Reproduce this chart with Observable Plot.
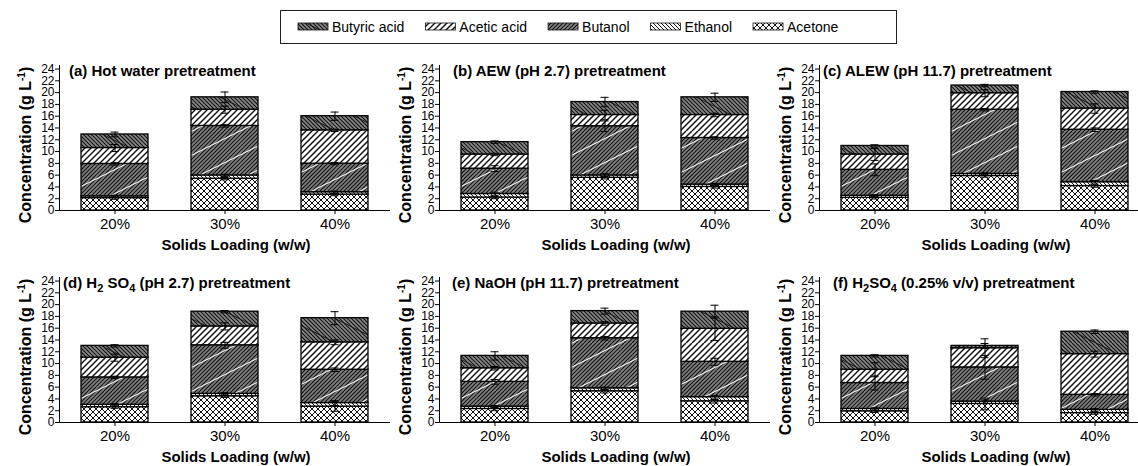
<!DOCTYPE html>
<html><head><meta charset="utf-8">
<script src="https://cdn.jsdelivr.net/npm/d3@7"></script>
<script src="https://cdn.jsdelivr.net/npm/@observablehq/plot@0.6"></script>
<style>
html,body{margin:0;padding:0;background:#fff;width:1138px;height:466px;overflow:hidden;font-family:"Liberation Sans",Arial,sans-serif;}
#root{position:relative;width:1138px;height:466px;}
.panel{position:absolute;width:390px;height:225px;}
.panel svg{overflow:visible;}
</style></head><body><div id="root"></div>
<script>
// ---------- data ----------
const legendOrder = ["Butyric acid","Acetic acid","Butanol","Ethanol","Acetone"];
const stackOrder = ["Acetone","Ethanol","Butanol","Acetic acid","Butyric acid"];
const loadings = ["20%","30%","40%"];
const titles = [
  "(a) Hot water pretreatment",
  "(b) AEW (pH 2.7) pretreatment",
  "(c) ALEW (pH 11.7) pretreatment",
  "(d) H_2 SO_4 (pH 2.7) pretreatment",
  "(e) NaOH (pH 11.7) pretreatment",
  "(f) H_2SO_4 (0.25% v/v) pretreatment"
];
const yTicks = [0,2,4,6,8,10,12,14,16,18,20,22,24];
const xAxisLabel = "Solids Loading (w/w)";
const yAxisLabel = ["Concentration (g L", "-1", ")"];
// values: panel a (20,30,40%), b, c, d, e, f  (g/L)
const acetone = [2.1,5.4,2.7, 2.2,5.55,4.0, 2.15,5.85,4.15, 2.6,4.45,2.7, 2.3,5.3,3.6, 1.9,3.15,1.6];
const ethanol = [0.3,0.55,0.4, 0.6,0.4,0.4, 0.35,0.35,0.65, 0.4,0.4,0.6, 0.4,0.5,0.7, 0.4,0.4,0.55];
const butanol = [5.5,8.4,4.85, 4.3,8.35,7.9, 4.4,10.9,8.9, 4.65,8.25,5.65, 4.2,8.5,6.0, 4.4,5.8,2.55];
const acetic  = [2.7,2.75,5.65, 2.4,1.9,3.9, 2.6,2.8,3.6, 3.35,3.2,4.65, 2.3,2.5,5.6, 2.25,3.25,6.9];
const butyric = [2.3,2.1,2.4, 2.1,2.2,3.0, 1.45,1.3,2.8, 2.0,2.5,4.1, 2.1,2.1,2.9, 2.35,0.4,3.8];
// standard deviations
const acetoneErr = [0.2,0.2,0.2, 0.2,0.2,0.2, 0.2,0.2,0.2, 0.2,0.2,0.8, 0.3,0.3,0.3, 0.2,1.0,0.2];
const ethanolErr = [0.2,0.2,0.2, 0.3,0.3,0.2, 0.2,0.2,0.3, 0.2,0.2,0.4, 0.2,0.2,0.3, 0.2,0.3,0.2];
const butanolErr = [0.2,0.2,0.2, 0.5,0.9,0.2, 1.0,0.2,0.3, 0.2,0.5,0.3, 0.4,0.3,0.6, 1.2,2.0,0.2];
const aceticErr  = [0.6,0.6,0.2, 0.2,0.8,0.3, 1.0,0.6,0.8, 0.6,0.6,0.4, 0.3,0.3,2.0, 1.2,1.6,0.5];
const butyricErr = [0.4,0.9,0.7, 0.2,0.8,0.7, 0.2,0.2,0.2, 0.2,0.2,1.1, 0.7,0.5,1.1, 0.2,0.4,0.3];

const series = {"Acetone":[acetone,acetoneErr],"Ethanol":[ethanol,ethanolErr],"Butanol":[butanol,butanolErr],
  "Acetic acid":[acetic,aceticErr],"Butyric acid":[butyric,butyricErr]};

// ---------- patterns ----------
const defsSvg = d3.select("#root").append("svg").attr("width",0).attr("height",0)
  .style("position","absolute").style("left",0).style("top",0);
const defs = defsSvg.append("defs");
function hatch(g, size, spacing, dir, stroke, w){
  for(let k=-size;k<=size;k+=spacing){
    if(dir==="/") g.append("line").attr("x1",k).attr("y1",size).attr("x2",k+size).attr("y2",0);
    else g.append("line").attr("x1",k).attr("y1",0).attr("x2",k+size).attr("y2",size);
  }
  g.selectAll("line").attr("stroke",stroke).attr("stroke-width",w);
}
function makePattern(id, size, bg, layers){
  const p = defs.append("pattern").attr("id",id).attr("patternUnits","userSpaceOnUse")
    .attr("width",size).attr("height",size);
  p.append("rect").attr("width",size).attr("height",size).attr("fill",bg);
  layers.forEach(f=>f(p.append("g"), size));
  return `url(#${id})`;
}
function shallow(g,size,stroke,w,up){
  const step=size/2;
  for(let y0=0;y0<=size*1.5+1;y0+=step){
    if(up) g.append("line").attr("x1",0).attr("y1",y0).attr("x2",size).attr("y2",y0-size/2);
    else g.append("line").attr("x1",0).attr("y1",y0-size/2).attr("x2",size).attr("y2",y0);
  }
  g.selectAll("line").attr("stroke",stroke).attr("stroke-width",w);
}
const fills = {
  "Butyric acid": makePattern("p-butyric",48,"#8a8a8a",[
    (g,s)=>hatch(g,s,4,"\\","#111",1.2),
    (g,s)=>shallow(g,s,"#111",0.9,false)]),
  "Acetic acid": makePattern("p-acetic",48,"#fff",[(g,s)=>hatch(g,s,6,"/","#111",1.5)]),
  "Butanol": makePattern("p-butanol",48,"#858585",[
    (g,s)=>hatch(g,s,4,"/","#111",1.2),
    (g,s)=>shallow(g,s,"#fff",1.1,true)]),
  "Ethanol": makePattern("p-ethanol",48,"#fff",[(g,s)=>hatch(g,s,4,"\\","#111",1)]),
  "Acetone": makePattern("p-acetone",48,"#fff",[
    (g,s)=>hatch(g,s,6,"/","#111",1),(g,s)=>hatch(g,s,6,"\\","#111",1)])
};

// ---------- legend ----------
const leg = d3.select("#root").append("svg").attr("width",618).attr("height",35)
  .style("position","absolute").style("left","280px").style("top","10px");
leg.append("rect").attr("x",0.5).attr("y",0.5).attr("width",616).attr("height",33)
  .attr("fill","#fff").attr("stroke","#222").attr("stroke-width",1);
let lx = 18;
legendOrder.forEach(name=>{
  leg.append("rect").attr("x",lx).attr("y",13).attr("width",30).attr("height",7)
    .attr("fill",fills[name]).attr("stroke","#111").attr("stroke-width",0.8);
  const t = leg.append("text").attr("x",lx+34).attr("y",21.5).attr("font-size",14)
    .attr("font-family","Liberation Sans, Arial, sans-serif").text(name);
  lx += 34 + t.node().getComputedTextLength() + 21;
});

// ---------- panels ----------
const layout = {lefts:[0,380,760], tops:[35,247], titleDx:[69,73,63,63,72,73]};
const font = "Liberation Sans, Arial, sans-serif";
titles.forEach((title,p)=>{
  const rows=[], errs=[];
  loadings.forEach((ld,l)=>{
    let cum=0;
    stackOrder.forEach(c=>{
      const i=p*3+l, v=series[c][0][i], e=series[c][1][i];
      rows.push({loading:ld, component:c, value:v});
      cum+=v;
      errs.push({loading:ld, component:c, lo:cum-e, hi:cum+e});
    });
  });
  const svg = Plot.plot({
    width:390, height:225, marginLeft:59, marginRight:0, marginTop:30, marginBottom:50,
    style:{background:"transparent", fontFamily:font, overflow:"visible", color:"#000"},
    x:{domain:loadings, paddingInner:0.39, paddingOuter:0.195, axis:null, label:null},
    y:{domain:[0,24.6], axis:null, label:null},
    color:{type:"ordinal", domain:stackOrder, range:stackOrder.map(c=>fills[c])},
    marks:[
      Plot.barY(rows,{x:"loading", y:"value", fill:"component", order:stackOrder,
        stroke:"#000", strokeWidth:1.3}),
      Plot.ruleX(errs,{x:"loading", y1:"lo", y2:"hi", stroke:"#000", strokeWidth:1}),
      Plot.tickY(errs,{x:"loading", y:"hi", inset:29.5, stroke:"#000", strokeWidth:1}),
      Plot.tickY(errs,{x:"loading", y:"lo", inset:29.5, stroke:"#000", strokeWidth:1}),
      Plot.ruleY([0],{stroke:"#000", strokeWidth:1}),
      Plot.frame({anchor:"left", stroke:"#000", strokeWidth:1}),
      Plot.axisY({ticks:yTicks, tickSize:4, tickPadding:1, fontSize:12, label:null, tickFormat:d=>String(d)}),
      Plot.axisX({tickSize:4, tickPadding:4, fontSize:15, label:null})
    ]
  });
  const col=p%3, row=Math.floor(p/3);
  const div = d3.select("#root").append("div").attr("class","panel")
    .style("left",layout.lefts[col]+"px").style("top",layout.tops[row]+"px");
  div.node().appendChild(svg);
  const s = d3.select(svg);
  // title with subscripts
  const tt = s.append("text").attr("x",layout.titleDx[p]).attr("y",41).attr("text-anchor","start")
    .attr("font-size",15).attr("font-weight","bold").attr("font-family",font).attr("fill","#000");
  const parts = title.split(/(_\d)/);
  let sub=false;
  parts.forEach(part=>{
    if(!part) return;
    if(part.startsWith("_")){
      tt.append("tspan").attr("dy",4).attr("font-size",11).text(part.slice(1));
      sub=true;
    } else {
      const ts = tt.append("tspan").text(part);
      if(sub){ ts.attr("dy",-4); sub=false; }
    }
  });
  // x label
  s.append("text").attr("x",236).attr("y",215).attr("text-anchor","middle")
    .attr("font-size",15).attr("font-weight","bold").attr("font-family",font).attr("fill","#000").text(xAxisLabel);
  // y label
  const yl = s.append("text").attr("transform","translate(31,110) rotate(-90)").attr("text-anchor","middle")
    .attr("font-size",16).attr("font-weight","bold").attr("font-family",font).attr("fill","#000");
  yl.append("tspan").text(yAxisLabel[0]);
  yl.append("tspan").attr("dy",-6).attr("font-size",10).text(yAxisLabel[1]);
  yl.append("tspan").attr("dy",6).text(yAxisLabel[2]);
});
</script></body></html>
